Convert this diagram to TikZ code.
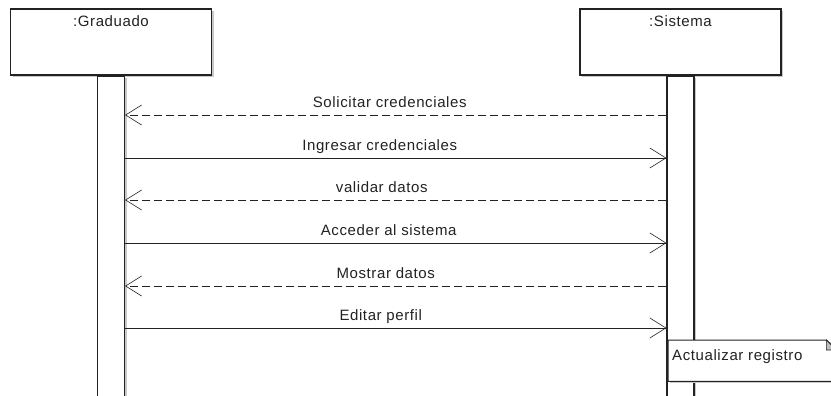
\documentclass[tikz,border=0pt]{standalone}
\usepackage{fontspec}
\setmainfont[LetterSpace=4]{Liberation Sans}
\usetikzlibrary{arrows.meta,positioning,shadows}
\definecolor{umlLine}{HTML}{222222}
\definecolor{umlShadow}{HTML}{C8C8C8}
\definecolor{umlFold}{HTML}{BDBDBD}

\begin{document}
\begin{tikzpicture}[x=1pt, y=-1pt,
  every node/.style={font=\fontsize{15}{17}\selectfont, text=umlLine},
  lifebox/.style={draw=umlLine, line width=1.1pt, fill=white,
                  minimum width=201pt, minimum height=66pt, inner sep=0pt,
                  drop shadow={shadow xshift=2pt, shadow yshift=-2pt, fill=umlShadow, opacity=1}},
  actbar/.style={draw=umlLine, line width=1.1pt, fill=white,
                 minimum width=27pt, minimum height=330pt, inner sep=0pt,
                 drop shadow={shadow xshift=2pt, shadow yshift=-2pt, fill=umlShadow, opacity=1}},
  notebox/.style={minimum width=168pt, minimum height=41pt, inner sep=0pt},
  lbl/.style={inner sep=0pt, text height=11pt, text depth=3pt},
  msg/.style={lbl, above=4pt},
  call/.style={draw=umlLine, line width=0.8pt, -{Straight Barb[length=16pt, width=20pt, line width=0.6pt]}},
  reply/.style={call, dash pattern=on 8pt off 4pt},
]
\useasboundingbox (0,0) rectangle (831,396);

% Lifelines
\node[lifebox] (grad) at (111,42) {};
\node[lifebox] (sis) at (680.5,42) {};
\node[lbl, below=7pt of grad.north] (gradlbl) {:Graduado};
\node[lbl, below=7pt of sis.north] (sislbl) {:Sistema};

% Activation bars
\node[actbar, anchor=north] (gradbar) at (grad.south) {};
\node[actbar, anchor=north] (sisbar) at (sis.south) {};

% Messages
\draw[reply] (sisbar.west |- 0,115) -- node[msg, xshift=-6pt] {Solicitar credenciales} (gradbar.east |- 0,115);
\draw[call] (gradbar.east |- 0,158) -- node[msg, xshift=-16pt] {Ingresar credenciales} (sisbar.west |- 0,158);
\draw[reply] (sisbar.west |- 0,200) -- node[msg, xshift=-14pt] {validar datos} (gradbar.east |- 0,200);
\draw[call] (gradbar.east |- 0,243) -- node[msg, xshift=-7pt] {Acceder al sistema} (sisbar.west |- 0,243);
\draw[reply] (sisbar.west |- 0,286) -- node[msg, xshift=-10pt] {Mostrar datos} (gradbar.east |- 0,286);
\draw[call] (gradbar.east |- 0,328) -- node[msg, xshift=-15pt] {Editar perfil} (sisbar.west |- 0,328);

% Note
\node[notebox, anchor=north west] (upd) at (668,340) {};
\fill[umlShadow] ([shift={(2pt,-2pt)}]upd.north west) rectangle ([shift={(2pt,-2pt)}]upd.south east);
\draw[umlLine, line width=1pt, fill=white] (upd.north west) -- ([xshift=-10pt]upd.north east)
  -- ([yshift=-10pt]upd.north east) -- (upd.south east) -- (upd.south west) -- cycle;
\draw[umlLine, line width=0.6pt, fill=umlFold] ([xshift=-10pt]upd.north east)
  -- ([xshift=-10pt, yshift=-10pt]upd.north east) -- ([yshift=-10pt]upd.north east) -- cycle;
\node[lbl, anchor=north west] (updlbl) at ([shift={(4pt,-9pt)}]upd.north west) {Actualizar registro};

\end{tikzpicture}
\end{document}
